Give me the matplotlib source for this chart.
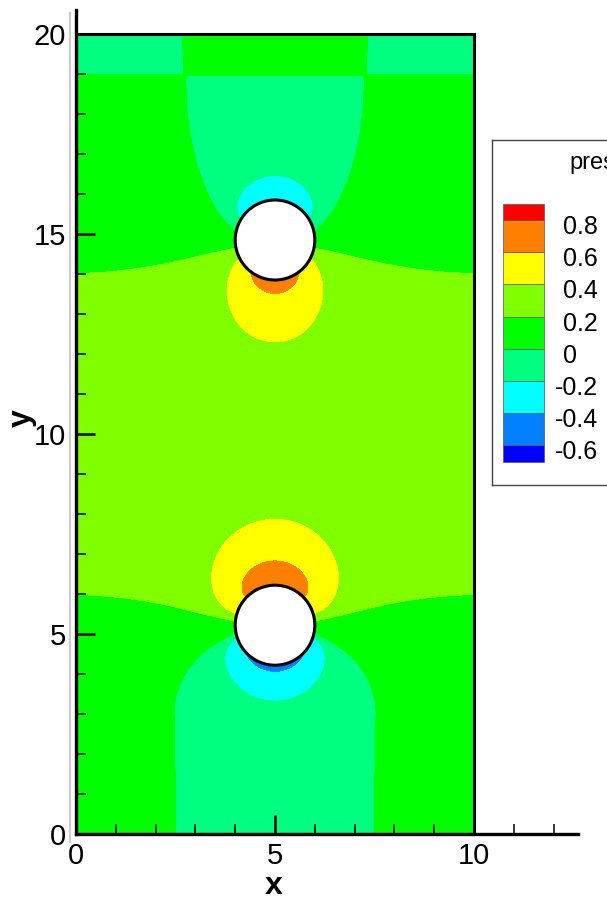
import numpy as np
import matplotlib
matplotlib.use("Agg")
import matplotlib.pyplot as plt
from matplotlib.patches import Circle, Rectangle
from matplotlib.lines import Line2D
from matplotlib.ticker import MultipleLocator

plt.rcParams['font.family'] = ['Liberation Sans', 'DejaVu Sans']

# contour levels and flood colours (Tecplot style)
levels = [-0.8, -0.6, -0.4, -0.2, 0.0, 0.2, 0.4, 0.6, 0.8, 1.0]
band_colors = ['#0000ff', '#0080ff', '#00ffff', '#00ff80', '#00ff00',
               '#80ff00', '#ffff00', '#ff8000', '#ff0000']
legend_levels = [0.8, 0.6, 0.4, 0.2, 0.0, -0.2, -0.4, -0.6]
legend_labels = ['0.8', '0.6', '0.4', '0.2', '0', '-0.2', '-0.4', '-0.6']

# domain and cylinders
domain_w, domain_h = 10.0, 20.0
cyl_x = [5.0, 5.0]
cyl_y = [5.22, 14.85]
cyl_r = 1.0
x_mid = 5.0

# pressure levels
p_mid = 0.3          # gap between the cylinders
p_side = 0.1         # near the side walls
p_core = -0.1        # wake below / bowl above
p_strip_side = -0.05 # top strip corners

# boundaries of the floods
mid_low_edge, mid_low_sag = 6.02, 0.78
mid_up_edge, mid_up_rise = 13.98, 0.75
sag_width = 2.75
wake_hw, wake_top, wake_round = 2.45, 3.0, 2.1
bowl_hw, bowl_top, bowl_round = 2.2, 18.9, 4.21
strip_hw, strip_y = 2.22, 18.97

# pressure lobes on the cylinders (cylinder, side, amplitude, length, power, angular k)
lobe_cyl = [0, 0, 1, 1]
lobe_side = [1, -1, -1, 1]
lobe_amp = [0.47, -0.42, 0.45, -0.22]
lobe_len = [0.75, 0.40, 0.55, 0.56]
lobe_pow = [2.0, 1.29, 1.3, 1.5]
lobe_k = [1.35, 0.7, 2.0, 1.0]


def sig(t):
    return 0.5 * (1 + np.tanh(t))


def inside(x, hw):
    hw = np.maximum(hw, 1e-3)
    return np.exp(-np.log(2) * (np.abs(x - x_mid) / hw) ** 8)


xs = np.linspace(0, domain_w, 601)
ys = np.linspace(0, domain_h, 1201)
X, Y = np.meshgrid(xs, ys)

bump = np.exp(-((X - x_mid) / sag_width) ** 2)
y_lo = mid_low_edge - mid_low_sag * bump
y_hi = mid_up_edge + mid_up_rise * bump
M = sig((Y - y_lo) / 0.03) * sig((y_hi - Y) / 0.03)

hw_lo = wake_hw * np.sqrt(np.clip(1 - (np.maximum(Y - wake_top, 0) / wake_round) ** 2, 0, 1))
low = p_side + (p_core - p_side) * inside(X, hw_lo)
hw_up = bowl_hw * np.sqrt(np.clip(1 - (np.maximum(bowl_top - Y, 0) / bowl_round) ** 2, 0, 1))
up = p_side + (p_core - p_side) * inside(X, hw_up)
strip = p_strip_side + (p_side - p_strip_side) * inside(X, strip_hw)
S = sig((Y - strip_y) / 0.03)
outer = np.where(Y < domain_h / 2, low, (1 - S) * up + S * strip)

P = M * p_mid + (1 - M) * outer
for i in range(len(lobe_cyl)):
    dx = X - cyl_x[lobe_cyl[i]]
    dy = Y - cyl_y[lobe_cyl[i]]
    r = np.maximum(np.hypot(dx, dy), 1e-6)
    c = np.clip(lobe_side[i] * dy / r, 0, 1)
    g = 1 / (1 + (np.maximum(r - cyl_r, 0) / lobe_len[i]) ** lobe_pow[i])
    P = P + lobe_amp[i] * c ** lobe_k[i] * g

fig = plt.figure(figsize=(6.07, 9.10), dpi=100)
ax = fig.add_axes([76 / 607, 76 / 910, 501.5 / 607, 824 / 910])
ax.contourf(X, Y, P, levels=levels, colors=band_colors)
ax.add_patch(Rectangle((0, 0), domain_w, domain_h, fill=False, ec='black', lw=2.2, zorder=4))
for cx, cy in zip(cyl_x, cyl_y):
    ax.add_patch(Circle((cx, cy), cyl_r, fc='white', ec='black', lw=2.2, zorder=5))

ax.set_xlim(0, 12.6)
ax.set_ylim(0, 20.6)
ax.spines['top'].set_visible(False)
ax.spines['right'].set_visible(False)
for s in ['left', 'bottom']:
    ax.spines[s].set_linewidth(2.4)
ax.set_xticks([0, 5, 10])
ax.set_yticks([0, 5, 10, 15, 20])
ax.xaxis.set_minor_locator(MultipleLocator(1))
ax.yaxis.set_minor_locator(MultipleLocator(1))
ax.tick_params(which='major', direction='in', length=14, width=1.8, labelsize=21,
               top=False, right=False)
ax.tick_params(which='minor', direction='in', length=7, width=1.1, top=False, right=False)
ax.tick_params(axis='x', which='major', pad=6)
ax.tick_params(axis='y', which='major', pad=7)
ax.set_xlabel('x', fontsize=23, fontweight='bold')
ax.set_ylabel('y', fontsize=23, fontweight='bold')
ax.xaxis.label.set_va('center')
ax.yaxis.label.set_va('center')
ax.xaxis.set_label_coords((274 - 76) / 501.5, (834 - 886) / 824)
ax.yaxis.set_label_coords((22 - 76) / 501.5, (834 - 418) / 824)

# light grey shadow left of the axis line
fig.add_artist(Line2D([69.5 / 607] * 2, [1 - 13 / 910, 1 - 842 / 910], color='#cccccc', lw=1.6))

# legend box, cut by the right edge of the picture as in the source
lg = fig.add_axes([492 / 607, (910 - 485) / 910, 170 / 607, 345 / 910])
lg.set_xlim(0, 170)
lg.set_ylim(345, 0)
lg.set_xticks([])
lg.set_yticks([])
for s in lg.spines.values():
    s.set_color('#444444')
    s.set_linewidth(1.0)


def level_y(v):
    return 80 + (0.8 - v) / 0.2 * 32.2


for i, col in enumerate(band_colors):
    lo = max(levels[i], -0.7)
    hi = min(levels[i + 1], 0.9)
    if hi <= lo:
        continue
    lg.add_patch(Rectangle((11, level_y(hi)), 41, level_y(lo) - level_y(hi),
                           fc=col, ec='#555555', lw=0.5))
for v, lab in zip(legend_levels, legend_labels):
    lg.text(63 if lab.startswith('-') else 71, level_y(v) + 7, lab,
            fontsize=18, ha='left', va='center')
lg.text(77, 23, 'pressure', fontsize=17, ha='left', va='center')

fig.savefig('out.png', dpi=100)
